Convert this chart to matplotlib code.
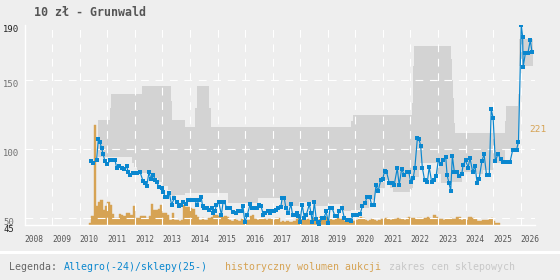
import matplotlib
matplotlib.use("Agg")
import matplotlib.pyplot as plt
import matplotlib.transforms as mtransforms
from matplotlib.lines import Line2D

plt.rcParams['font.family'] = ['DejaVu Sans Mono']

# --- data -------------------------------------------------------------
allegro_t = [2010.39, 2010.49, 2010.61, 2010.67, 2010.73, 2010.79, 2010.85, 2010.91, 2011.00, 2011.10,
             2011.19, 2011.28, 2011.34, 2011.43, 2011.52, 2011.60, 2011.70, 2011.76, 2011.82, 2011.92,
             2012.00, 2012.09, 2012.18, 2012.30, 2012.37, 2012.43, 2012.51, 2012.58, 2012.67, 2012.73,
             2012.79, 2012.87, 2012.97, 2013.03, 2013.09, 2013.17, 2013.25, 2013.33, 2013.43, 2013.52,
             2013.60, 2013.67, 2013.75, 2013.85, 2013.94, 2014.06, 2014.18, 2014.24, 2014.34, 2014.40,
             2014.46, 2014.51, 2014.60, 2014.69, 2014.79, 2014.84, 2014.90, 2014.96, 2015.04, 2015.14,
             2015.20, 2015.25, 2015.33, 2015.39, 2015.45, 2015.56, 2015.66, 2015.75, 2015.84, 2015.92,
             2015.99, 2016.08, 2016.18, 2016.24, 2016.33, 2016.42, 2016.51, 2016.58, 2016.66, 2016.72,
             2016.82, 2016.90, 2016.97, 2017.05, 2017.11, 2017.21, 2017.29, 2017.35, 2017.42, 2017.48,
             2017.57, 2017.66, 2017.72, 2017.81, 2017.87, 2017.93, 2017.99, 2018.07, 2018.15, 2018.22,
             2018.33, 2018.39, 2018.44, 2018.51, 2018.58, 2018.66, 2018.69, 2018.78, 2018.86, 2018.94,
             2019.02, 2019.08, 2019.16, 2019.26, 2019.34, 2019.42, 2019.52, 2019.60, 2019.68, 2019.77,
             2019.84, 2019.92, 2020.05, 2020.17, 2020.25, 2020.35, 2020.43, 2020.52, 2020.59, 2020.67,
             2020.75, 2020.83, 2020.92, 2020.99, 2021.06, 2021.13, 2021.23, 2021.32, 2021.41, 2021.52,
             2021.59, 2021.68, 2021.77, 2021.86, 2021.94, 2022.01, 2022.10, 2022.16, 2022.25, 2022.31,
             2022.37, 2022.43, 2022.51, 2022.61, 2022.68, 2022.77, 2022.85, 2022.93, 2023.01, 2023.09,
             2023.19, 2023.28, 2023.33, 2023.40, 2023.46, 2023.52, 2023.59, 2023.68, 2023.76, 2023.86,
             2023.91, 2024.00, 2024.09, 2024.16, 2024.26, 2024.34, 2024.42, 2024.49, 2024.59, 2024.67,
             2024.76, 2024.86, 2024.93, 2025.00, 2025.08, 2025.17, 2025.27, 2025.37, 2025.49, 2025.61,
             2025.71, 2025.85, 2025.92, 2026.02, 2026.07, 2026.09, 2026.17, 2026.26, 2026.35, 2026.41]
allegro_price = [91, 90, 92, 107, 105, 100.6, 96.3, 91, 89, 91.7,
                 91.7, 91.7, 86.1, 87.6, 86.1, 85.6, 87.4, 83.2, 81.3, 82.9,
                 82.5, 82.5, 83.7, 76.5, 75.3, 73.4, 83.2, 78.4, 81.3, 77.7,
                 76.1, 72.4, 72, 69.2, 65.6, 65.6, 68, 59.6, 64.5, 61.6,
                 58.4, 59.6, 61.6, 60.3, 63.2, 63.2, 63.2, 59.6, 63.2, 65.6,
                 58.4, 57.2, 57.6, 56, 57.2, 53.6, 54.8, 59.6, 61.6, 52.4,
                 61.6, 61.6, 57.2, 57.2, 57.2, 54.3, 53.6, 54.8, 54.8, 58.4,
                 47.1, 52.4, 60.1, 57, 57, 57, 59.6, 58.4, 52.4, 53.6,
                 54.8, 53.6, 54.8, 54.8, 56, 57.2, 57.9, 64.9, 64.5, 57.2,
                 53.6, 60.1, 52.4, 52.4, 54, 51.2, 47.1, 59.6, 50, 52.4,
                 60.1, 53.6, 47.1, 61.6, 49.3, 47.1, 45.2, 50, 50, 54.8,
                 46.4, 57.2, 57.2, 51.2, 51.2, 54.8, 57, 50, 48.8, 48.8,
                 48, 52.4, 52.1, 52.7, 58.4, 60.8, 65.6, 65.3, 59.6, 59.6,
                 73.6, 69.7, 77.7, 78, 84.2, 83.5, 75.7, 75.2, 74.1, 86.1,
                 74.1, 85.6, 81.3, 83.2, 83.2, 76, 78.9, 86.6, 107.8, 107,
                 102.5, 86.6, 77.7, 76, 86.9, 76, 77.7, 80.6, 91.7, 89.3,
                 91.7, 94.1, 80.9, 75.3, 69.7, 95, 83.7, 83.7, 80.6, 81.8,
                 88.5, 91.7, 86.6, 93.4, 83.2, 88, 75.3, 78.4, 91, 96.3,
                 81.3, 81.3, 128.8, 122.3, 91, 96.3, 93, 90.4, 90.4, 90.4,
                 99.4, 99.4, 105.4, 189.8, 181.3, 159.6, 169.3, 169.3, 178.9, 170]

# shop price range (step changes)
shop_t = [2010.66, 2011.08, 2011.12, 2011.88, 2011.96, 2012.06, 2012.27, 2012.60, 2012.84, 2013.02,
          2013.20, 2013.30, 2013.36, 2013.45, 2013.80, 2014.18, 2014.24, 2014.70, 2014.76, 2015.38,
          2016.47, 2017.30, 2017.96, 2018.52, 2019.00, 2019.50, 2019.84, 2019.92, 2020.17, 2020.50,
          2020.71, 2020.89, 2021.07, 2021.25, 2021.36, 2021.98, 2022.04, 2022.08, 2022.12, 2022.30,
          2022.35, 2022.95, 2023.10, 2023.46, 2023.50, 2023.54, 2023.58, 2023.62, 2023.86, 2024.40,
          2024.63, 2024.99, 2025.42, 2025.46, 2025.90, 2025.95, 2026.45]
shop_low = [94.5, 94.5, 94.5, 90, 87, 85, 83, 79, 76, 73,
            70, 67, 66, 67, 68.5, 68.5, 68.5, 68.5, 68.5, 61,
            64.5, 58.4, 62, 58.4, 60, 55, 56, 56, 57, 63,
            68, 72, 77.7, 72, 69.2, 70, 72, 77, 80, 85,
            89.8, 82, 75.3, 75.3, 76, 76, 76, 76, 83.7, 82,
            85, 89.8, 100, 100, 100, 160, 160]
shop_high = [121, 130, 140, 140, 140, 140, 145.6, 145.6, 145.6, 145.6,
             145.6, 135, 121, 121, 116.2, 130, 145.6, 130, 116.2, 116.2,
             116.2, 116.2, 116.2, 116.2, 116.2, 116.2, 120, 124.7, 124.7, 124.7,
             124.7, 124.7, 124.7, 124.7, 124.7, 124.7, 133, 160, 174.6, 174.6,
             174.6, 174.6, 174.6, 165, 150, 137, 118.7, 111.5, 111.5, 111.5,
             111.5, 111.5, 120, 131.2, 140, 180, 180]

# monthly auction volume, first month May 2010
volume_start = 2010 + 4 / 12
volume = [1.7, 9, 100, 19, 23, 25, 15, 19, 23, 20,
          11, 7, 7, 11, 10, 9, 12, 12, 10, 19,
          7, 7, 9, 9, 9, 7, 9, 21, 15, 15,
          16, 20, 12, 12, 10, 5, 12, 5, 5, 4,
          5, 20, 18, 18, 17, 16, 10, 8, 5, 7,
          5, 5, 7, 8, 10, 10, 9,
          8, 8, 9, 8, 5, 4, 6, 5, 4, 6, 5, 4, 5, 9, 10,
          6, 5, 6, 7, 6, 5, 6, 6, 5, 7, 7,
          3, 4, 3, 4, 3, 3, 4, 6, 7,
          7, 6, 5, 6, 5, 7, 6, 5, 8, 8, 7, 8, 5,
          6, 5, 6, 7, 6, 6, 4, 5, 4, 5, 4, 5, 7, 8, 7,
          5, 4, 5, 6, 5, 4, 5,
          6, 6, 7, 6, 5, 6, 6, 7, 6, 6, 5,
          7, 8, 7, 7, 6, 7, 7, 6, 7, 8, 7, 6, 10, 8,
          6, 6, 5, 6, 6, 7, 6, 6, 8, 8, 5, 6, 5, 8,
          8, 7, 6, 4, 4, 5, 5, 5, 6, 7, 4, 2, 2]
volume_t = [volume_start + i / 12 for i in range(len(volume))]

years = list(range(2008, 2027))
y_ticks = [190, 150, 100, 50, 45]
total_label = "221"

BG = '#eeeeee'
BLUE = '#0a87cf'
ORANGE = '#d6a354'
BAND = '#d3d3d3'

# --- figure -----------------------------------------------------------
fig = plt.figure(figsize=(5.6, 2.8), dpi=100, facecolor=BG)
ax = fig.add_axes([0.0441, 0.1964, 0.9113, 0.7154])
axv = ax.twinx()

# volume bars on the twin axis, drawn underneath
axv.set_zorder(0)
ax.set_zorder(1)
ax.patch.set_visible(False)
axv.bar(volume_t, volume, width=1 / 12, align='edge', color=ORANGE,
        edgecolor=ORANGE, linewidth=0.3)
axv.set_ylim(0, 200)
axv.axis('off')

ax.fill_between(shop_t, shop_low, shop_high, step='post', color=BAND, linewidth=0, zorder=1)
ax.plot(allegro_t, allegro_price, color=BLUE, lw=0.85, marker='s', ms=2.6,
        mew=0, mfc=BLUE, zorder=3)

ax.set_xlim(2008, 2026.52)
ax.set_ylim(45, 190)
ax.set_xticks(years)
ax.set_yticks([50, 100, 150])
ax.tick_params(length=0, labelleft=False, labelbottom=False)
ax.grid(True, color='white', lw=0.8, linestyle=(0, (7, 6)), zorder=2)
ax.set_axisbelow(False)
for s in ['top', 'right']:
    ax.spines[s].set_visible(False)
for s in ['left', 'bottom']:
    ax.spines[s].set_color('white')
    ax.spines[s].set_linewidth(1.0)

# y labels, left aligned at the figure edge, slightly below their value
trans = mtransforms.blended_transform_factory(fig.transFigure, ax.transData)
trans = trans + mtransforms.ScaledTranslation(0, -4.5 / 100, fig.dpi_scale_trans)
for v in y_ticks:
    col = '#222222' if v in (190, 45) else '#707070'
    ax.text(3 / 560, v, str(v), transform=trans, ha='left', va='center',
            fontsize=6.4, color=col, clip_on=False)

# year labels left aligned at each year start
xtrans = mtransforms.blended_transform_factory(ax.transData, fig.transFigure)
for yr in years:
    ax.text(yr, 1 - 239 / 280, str(yr), transform=xtrans, ha='left', va='center',
            fontsize=5.7, color='#555555', clip_on=False)

fig.text(34 / 560, 1 - 12.5 / 280, "10 zł - Grunwald", fontsize=8.4, fontweight='bold',
         color='#555555', ha='left', va='center')
fig.text(529.5 / 560, 1 - 129.5 / 280, total_label, fontsize=6.8, color=ORANGE,
         ha='left', va='center')

# separator and legend
fig.add_artist(Line2D([0, 1], [1 - 251.5 / 280] * 2, transform=fig.transFigure,
                      color='white', lw=2.2))
ly = 1 - 267 / 280
fig.text(9.3 / 560, ly, "Legenda:", fontsize=7.1, color='#666666', va='center')
fig.text(64.3 / 560, ly, "Allegro(-24)/sklepy(25-)", fontsize=7.1, color=BLUE, va='center')
fig.text(225 / 560, ly, "historyczny wolumen aukcji", fontsize=7.1, color=ORANGE, va='center')
fig.text(389.3 / 560, ly, "zakres cen sklepowych", fontsize=7.1, color='#c8c8c8', va='center')

fig.savefig("out.png", dpi=100, facecolor=BG)
